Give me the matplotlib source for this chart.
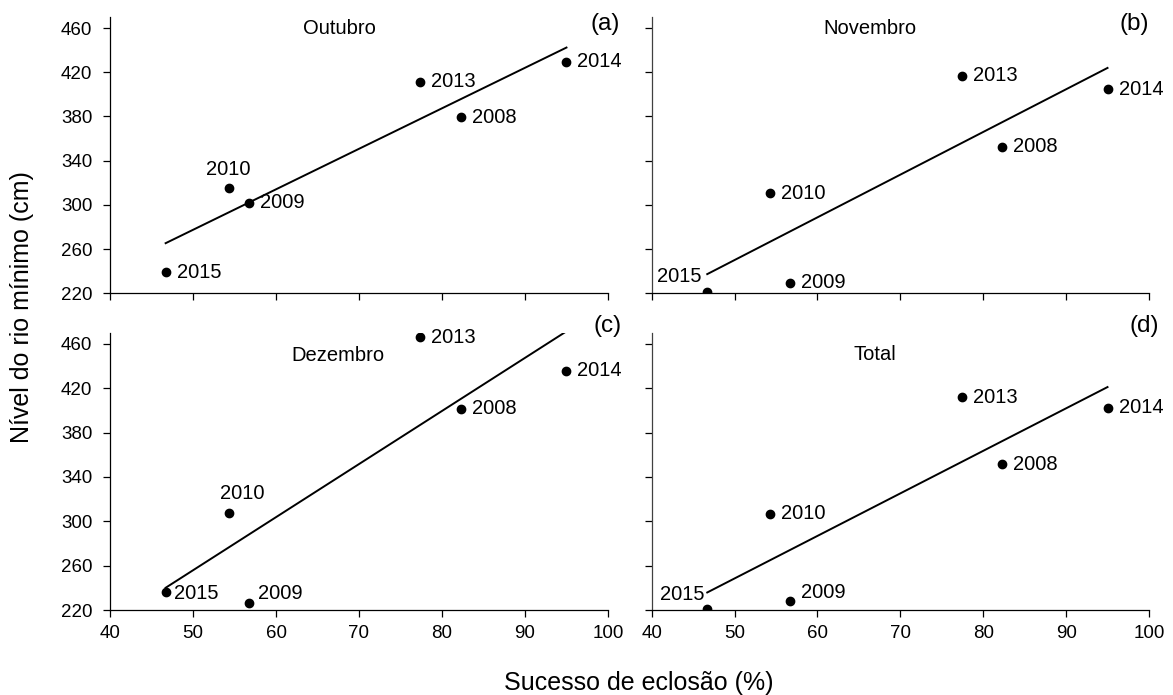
import numpy as np
import matplotlib.pyplot as plt

plt.rcParams['font.family'] = ['Liberation Sans', 'DejaVu Sans']

# sucesso de eclosão (%) em cada ano
anos = ['2008', '2009', '2010', '2013', '2014', '2015']
eclosao = [82.3, 56.7, 54.3, 77.4, 95.0, 46.7]

# nível mínimo do rio (cm) por período
outubro = [379.5, 302.0, 315.0, 411.5, 429.6, 239.0]
novembro = [352.4, 229.6, 310.5, 416.7, 404.6, 221.0]
dezembro = [401.3, 226.6, 307.8, 465.7, 435.7, 235.9]
total = [351.5, 228.4, 306.9, 411.7, 402.2, 221.0]

titulos = ['Outubro', 'Novembro', 'Dezembro', 'Total']
letras = ['(a)', '(b)', '(c)', '(d)']
series = [outubro, novembro, dezembro, total]

# posição dos rótulos dos anos (px em relação ao ponto); padrão: à direita
desloc = [
    {'2010': (0, 19, 'center')},
    {'2015': (-5.6, 16, 'right')},
    {'2010': (14, 19, 'center'), '2009': (9.3, 8.7, 'left'), '2015': (8.3, -1, 'left')},
    {'2015': (-3, 14, 'right'), '2009': (10.7, 8, 'left')},
]
pos_titulo = [(67.7, 460), (66.3, 460), (67.5, 449), (66.9, 450.4)]
pos_letra = [(99.7, 463.5), (98.2, 464), (100.0, 475.8), (99.4, 475.8)]

rects = [
    [0.0938, 0.578, 0.4245, 0.3975],
    [0.5556, 0.578, 0.4239, 0.3975],
    [0.0938, 0.1223, 0.4245, 0.399],
    [0.5556, 0.1223, 0.4239, 0.399],
]

fig = plt.figure(figsize=(11.73, 6.95), dpi=100)
px = 0.72  # px -> pt a 100 dpi

for i, (rect, y) in enumerate(zip(rects, series)):
    ax = fig.add_axes(rect)
    x = np.array(eclosao)
    y = np.array(y)

    ax.plot(x, y, 'o', color='black', markersize=6, zorder=3)

    # reta de regressão
    a, b = np.polyfit(x, y, 1)
    xr = np.array([x.min(), x.max()])
    ax.plot(xr, a * xr + b, color='black', lw=1.4)

    for ano, xi, yi in zip(anos, x, y):
        dx, dy, ha = desloc[i].get(ano, (11, 0, 'left'))
        ax.annotate(ano, (xi, yi), xytext=(dx * px, dy * px),
                    textcoords='offset points', ha=ha, va='center',
                    fontsize=14.5)

    ax.text(*pos_titulo[i], titulos[i], ha='center', va='center', fontsize=14.5)
    ax.text(*pos_letra[i], letras[i], ha='center', va='center', fontsize=17.5,
            clip_on=False)

    ax.set_xlim(40, 100)
    ax.set_ylim(220, 470)
    ax.set_xticks(np.arange(40, 101, 10))
    ax.set_yticks(np.arange(220, 461, 40))
    ax.spines[['top', 'right']].set_visible(False)
    for s in ['left', 'bottom']:
        ax.spines[s].set_linewidth(0.9)
    ax.tick_params(direction='out', length=4.8, width=0.9, labelsize=13.5)
    ax.tick_params(axis='y', pad=8)
    ax.tick_params(axis='x', pad=6)
    if i < 2:
        ax.tick_params(axis='x', labelbottom=False)
    if i % 2 == 1:
        ax.tick_params(axis='y', labelleft=False)
        ax.spines['left'].set_color('#404040')

fig.text(22 / 1173, 0.558, 'Nível do rio mínimo (cm)', rotation=90,
         ha='center', va='center', fontsize=18)
fig.text(639 / 1173, 0.0065, 'Sucesso de eclosão (%)', ha='center',
         va='baseline', fontsize=18)

fig.savefig('out.png', dpi=100)
